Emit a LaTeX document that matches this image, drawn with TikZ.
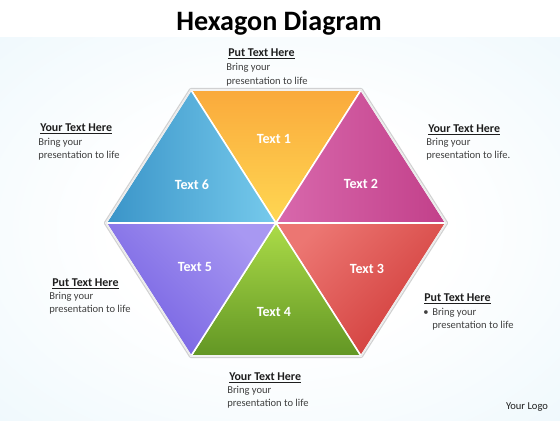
\documentclass[tikz,border=0pt]{standalone}
\usepackage{fontspec}
\setmainfont{Carlito}
\usetikzlibrary{positioning}
\definecolor{bgblue}{RGB}{233,246,252}
\definecolor{bgdeep}{RGB}{224,240,249}
\definecolor{headgray}{RGB}{30,30,30}
\definecolor{txtgray}{RGB}{64,64,64}
\definecolor{orangetop}{RGB}{250,170,60}
\definecolor{orangebot}{RGB}{255,215,82}
\definecolor{pinklight}{RGB}{216,104,172}
\definecolor{pinkdark}{RGB}{194,64,138}
\definecolor{redlight}{RGB}{236,118,114}
\definecolor{reddark}{RGB}{208,58,56}
\definecolor{greenlight}{RGB}{172,220,72}
\definecolor{greendark}{RGB}{98,150,36}
\definecolor{purplelight}{RGB}{168,152,242}
\definecolor{purpledark}{RGB}{116,96,226}
\definecolor{bluedark}{RGB}{58,148,200}
\definecolor{bluelight}{RGB}{118,202,236}
\pgfdeclareradialshading{backglow}{\pgfpoint{0bp}{0bp}}{color(0bp)=(white); color(15bp)=(white); color(45bp)=(bgblue); color(72bp)=(bgdeep)}

\begin{document}
\begin{tikzpicture}[
    tri/.style={draw=white, line width=1.1pt, line join=round},
    lbl/.style={text=white, font=\fontsize{10}{12}\selectfont\bfseries},
    head/.style={anchor=base west, inner sep=0pt, text=headgray, font=\fontsize{8.5}{10}\selectfont\bfseries},
    body/.style={anchor=base west, inner sep=0pt, align=left, text=txtgray, font=\fontsize{7.5}{9.6}\selectfont}
]
        % background
        \useasboundingbox (-6.9, -4.925) rectangle (7.1, 5.575);
        \fill[white] (-6.9, 4.65) rectangle (7.1, 5.575);
        \shade[shading=backglow] (-6.9, -4.925) rectangle (7.1, 4.65);

        \node (title) at (0.075, 4.825) [anchor=base, inner sep=0pt, font=\fontsize{20}{24}\selectfont\bfseries] {Hexagon Diagram};

        % hexagon corners
        \coordinate (c) at (0, 0);
        \coordinate (tl) at (-2.125, 3.325);
        \coordinate (tr) at (2.125, 3.325);
        \coordinate (r) at (4.25, 0);
        \coordinate (br) at (2.125, -3.325);
        \coordinate (bl) at (-2.125, -3.325);
        \coordinate (l) at (-4.25, 0);

        \draw[gray!50, line width=3pt, line join=round, opacity=0.7, xshift=0.3mm, yshift=-0.5mm] (tl) -- (tr) -- (r) -- (br) -- (bl) -- (l) -- cycle;

        \shade[tri, top color=orangetop, bottom color=orangebot] (tl) -- (tr) -- (c) -- cycle;
        \shade[tri, left color=pinklight, right color=pinkdark] (tr) -- (r) -- (c) -- cycle;
        \shade[tri, top color=redlight, bottom color=reddark, shading angle=45] (r) -- (br) -- (c) -- cycle;
        \shade[tri, top color=greenlight, bottom color=greendark] (br) -- (bl) -- (c) -- cycle;
        \shade[tri, top color=purplelight, bottom color=purpledark, shading angle=-45] (bl) -- (l) -- (c) -- cycle;
        \shade[tri, left color=bluedark, right color=bluelight] (l) -- (tl) -- (c) -- cycle;

        \draw[white!85!gray, line width=1pt, line join=round] (tl) -- (tr) -- (r) -- (br) -- (bl) -- (l) -- cycle;

        \node[lbl] (t1) at (-0.05, 2.1) {Text 1};
        \node[lbl] (t2) at (2.125, 0.975) {Text 2};
        \node[lbl] (t3) at (2.275, -1.15) {Text 3};
        \node[lbl] (t4) at (-0.05, -2.225) {Text 4};
        \node[lbl] (t5) at (-2.025, -1.1) {Text 5};
        \node[lbl] (t6) at (-2.1, 0.95) {Text 6};

        % side texts (body nodes sit on their last line)
        \node[head] (h1) at (-1.2, 4.175) {\underline{Put Text Here}};
        \node[body] (b1) at (-1.25, 3.475) {Bring your\\presentation to life};
        \node[head] (h2) at (3.8, 2.275) {\underline{Your Text Here}};
        \node[body] (b2) at (3.75, 1.61) {Bring your\\presentation to life.};
        \node[head] (h3) at (3.7, -1.95) {\underline{Put Text Here}};
        \node[body] (b3) at (3.675, -2.64) {\makebox[6.4pt][l]{\textbullet}Bring your\\\hspace*{6.4pt}presentation to life};
        \node[head] (h4) at (-1.175, -3.925) {\underline{Your Text Here}};
        \node[body] (b4) at (-1.225, -4.59) {Bring your\\presentation to life};
        \node[head] (h5) at (-5.6, -1.575) {\underline{Put Text Here}};
        \node[body] (b5) at (-5.675, -2.24) {Bring your\\presentation to life};
        \node[head] (h6) at (-5.9, 2.3) {\underline{Your Text Here}};
        \node[body] (b6) at (-5.95, 1.61) {Bring your\\presentation to life};

        \node (logo) at (6.275, -4.65) [anchor=base, inner sep=0pt, text=headgray, font=\fontsize{7.5}{9}\selectfont] {Your Logo};
    \end{tikzpicture}
\end{document}
